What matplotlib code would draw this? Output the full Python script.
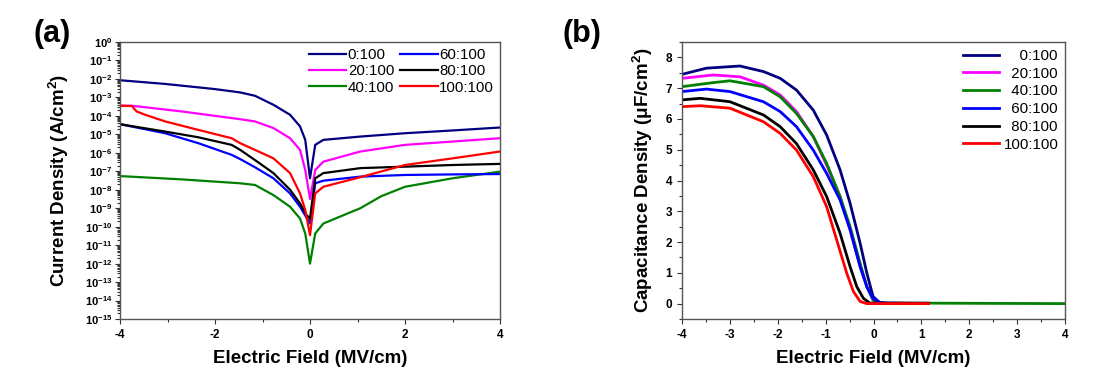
import numpy as np
import matplotlib
matplotlib.use("Agg")
import matplotlib.pyplot as plt
from matplotlib.ticker import LogLocator, MultipleLocator, NullFormatter

plt.rcParams['font.family'] = ['Liberation Sans', 'DejaVu Sans']
plt.rcParams['font.weight'] = 'bold'
plt.rcParams['axes.unicode_minus'] = False
plt.rcParams['mathtext.fontset'] = 'custom'
plt.rcParams['mathtext.rm'] = 'Liberation Sans:bold'
plt.rcParams['mathtext.bf'] = 'Liberation Sans:bold'
plt.rcParams['mathtext.default'] = 'bf'

labels = ['0:100', '20:100', '40:100', '60:100', '80:100', '100:100']
colors = ['#000080', '#ff00ff', '#008000', '#0000ff', '#000000', '#ff0000']

# (a) J-E curves: field (MV/cm) and log10 of current density (A/cm2)
jx_0 = [-4, -3.05, -2.0, -1.47, -1.16, -0.77, -0.42, -0.21, -0.10, 0.0, 0.11, 0.28, 1.06, 2, 3, 4]
logj_0 = [-2.07, -2.27, -2.55, -2.73, -2.91, -3.4, -3.94, -4.57, -5.3, -7.38, -5.57, -5.3, -5.12, -4.94, -4.79, -4.63]
jx_20 = [-4, -3.75, -2.7, -1.47, -1.16, -0.77, -0.42, -0.21, -0.10, 0.0, 0.11, 0.28, 1.06, 2, 3, 4]
logj_20 = [-3.45, -3.45, -3.76, -4.18, -4.3, -4.66, -5.21, -5.84, -6.93, -8.5, -6.93, -6.48, -5.93, -5.57, -5.39, -5.21]
jx_40 = [-4, -2.7, -1.47, -1.16, -0.77, -0.42, -0.21, -0.10, 0.0, 0.11, 0.28, 1.06, 1.5, 2, 3, 4]
logj_40 = [-7.26, -7.44, -7.65, -7.74, -8.29, -8.92, -9.56, -10.37, -12.0, -10.37, -9.83, -9.0, -8.35, -7.84, -7.38, -7.02]
jx_60 = [-4, -3.05, -2.35, -1.65, -1.47, -1.16, -0.77, -0.42, -0.21, 0.0, 0.11, 0.28, 1.06, 2, 3, 4]
logj_60 = [-4.45, -4.94, -5.48, -6.11, -6.34, -6.78, -7.38, -8.2, -8.92, -9.83, -7.65, -7.51, -7.29, -7.2, -7.17, -7.15]
jx_80 = [-4, -3.05, -2.35, -1.65, -1.47, -1.16, -0.77, -0.42, -0.21, -0.07, 0.0, 0.11, 0.28, 1.06, 2, 3, 4]
logj_80 = [-4.45, -4.85, -5.16, -5.57, -5.84, -6.39, -7.1, -8.0, -8.74, -9.38, -9.56, -7.38, -7.1, -6.83, -6.75, -6.66, -6.6]
jx_100 = [-4, -3.75, -3.65, -3.47, -3.05, -2.35, -1.65, -1.47, -1.16, -0.77, -0.42, -0.21, -0.10, 0.0, 0.11, 0.28, 1.06, 2, 3, 4]
logj_100 = [-3.45, -3.47, -3.76, -3.94, -4.3, -4.76, -5.21, -5.48, -5.84, -6.3, -7.1, -8.2, -9.1, -10.46, -8.2, -7.84, -7.32, -6.66, -6.3, -5.93]

# (b) C-E curves: field (MV/cm) and capacitance density (uF/cm2)
cx_0 = [-4, -3.49, -2.79, -2.3, -1.95, -1.61, -1.26, -0.98, -0.7, -0.49, -0.28, -0.14, -0.01, 0.13, 0.27, 1.15]
cap_0 = [7.45, 7.65, 7.72, 7.54, 7.32, 6.94, 6.29, 5.48, 4.35, 3.26, 1.96, 0.99, 0.23, 0.03, 0.01, 0.01]
cx_20 = [-4, -3.35, -2.79, -2.3, -1.95, -1.61, -1.26, -0.98, -0.7, -0.49, -0.28, -0.14, -0.01, 0.13, 1.15]
cap_20 = [7.32, 7.43, 7.37, 7.1, 6.78, 6.24, 5.43, 4.5, 3.48, 2.4, 1.2, 0.55, 0.12, 0.02, 0.01]
cx_40 = [-4, -3.35, -3.0, -2.3, -1.95, -1.61, -1.26, -0.98, -0.7, -0.49, -0.28, -0.14, -0.01, 0.13, 4.0]
cap_40 = [7.05, 7.18, 7.24, 7.05, 6.72, 6.18, 5.43, 4.56, 3.48, 2.5, 1.31, 0.55, 0.12, 0.02, 0.0]
cx_60 = [-4, -3.49, -3.0, -2.3, -1.95, -1.61, -1.26, -0.98, -0.7, -0.49, -0.28, -0.14, -0.01, 0.13, 0.27, 1.15]
cap_60 = [6.89, 6.97, 6.89, 6.56, 6.24, 5.75, 4.99, 4.23, 3.37, 2.4, 1.2, 0.55, 0.17, 0.04, 0.01, 0.01]
cx_80 = [-4, -3.62, -3.0, -2.3, -1.95, -1.61, -1.26, -0.98, -0.7, -0.49, -0.35, -0.21, -0.08, 1.15]
cap_80 = [6.62, 6.67, 6.56, 6.13, 5.75, 5.2, 4.35, 3.48, 2.29, 1.2, 0.55, 0.17, 0.02, 0.0]
cx_100 = [-4, -3.62, -3.0, -2.3, -1.95, -1.61, -1.26, -0.98, -0.77, -0.56, -0.42, -0.28, -0.14, 1.15]
cap_100 = [6.4, 6.43, 6.35, 5.91, 5.53, 4.99, 4.13, 3.15, 2.07, 0.99, 0.39, 0.07, 0.0, 0.0]

jx_all = [jx_0, jx_20, jx_40, jx_60, jx_80, jx_100]
logj_all = [logj_0, logj_20, logj_40, logj_60, logj_80, logj_100]
cx_all = [cx_0, cx_20, cx_40, cx_60, cx_80, cx_100]
cap_all = [cap_0, cap_20, cap_40, cap_60, cap_80, cap_100]


def style_axes(ax):
  for s in ax.spines.values():
    s.set_color('#555555')
    s.set_linewidth(1.0)
  ax.tick_params(which='both', direction='out', labelsize=8.5, width=0.8, colors='#333333', labelcolor='black')
  ax.tick_params(which='major', length=3.5)
  ax.tick_params(which='minor', length=2)


fig = plt.figure(figsize=(11.04, 3.83), dpi=100)
ax_a = fig.add_axes([0.1087, 0.1671, 0.3442, 0.7232])
ax_b = fig.add_axes([0.6178, 0.1671, 0.3469, 0.7232])

# panel (a)
for xs, vals, lab, c in zip(jx_all, logj_all, labels, colors):
  ax_a.plot(xs, 10.0 ** np.array(vals), color=c, lw=1.6, label=lab)
ax_a.set_yscale('log')
ax_a.set_xlim(-4, 4)
ax_a.set_ylim(1e-15, 1)
ax_a.yaxis.set_major_locator(LogLocator(base=10, numticks=20))
ax_a.yaxis.set_minor_locator(LogLocator(base=10, subs=np.arange(2, 10), numticks=20))
ax_a.yaxis.set_minor_formatter(NullFormatter())
ax_a.xaxis.set_major_locator(MultipleLocator(2))
ax_a.xaxis.set_minor_locator(MultipleLocator(1))
style_axes(ax_a)
ax_a.tick_params(axis='y', labelsize=8, pad=2)
ax_a.set_xlabel('Electric Field (MV/cm)', fontsize=13.5, fontweight='bold', labelpad=7)
ax_a.set_ylabel('Current Density (A/cm$^2$)', fontsize=13.5, fontweight='bold', labelpad=10)
ax_a.legend(ncol=2, loc='upper right', frameon=False, prop={'size': 10.8, 'weight': 'normal'},
            handlelength=2.5, handletextpad=0.1, columnspacing=0.4, labelspacing=0.15,
            borderaxespad=0.0, bbox_to_anchor=(1.0, 1.0))
fig.text(0.047, 0.91, '(a)', fontsize=22, fontweight='bold', ha='center', va='center')

# panel (b)
for xs, vals, lab, c in zip(cx_all, cap_all, labels, colors):
  ax_b.plot(xs, vals, color=c, lw=2.0, label=lab)
ax_b.set_xlim(-4, 4)
ax_b.set_ylim(-0.5, 8.5)
ax_b.xaxis.set_major_locator(MultipleLocator(1))
ax_b.xaxis.set_minor_locator(MultipleLocator(0.5))
ax_b.yaxis.set_major_locator(MultipleLocator(1))
ax_b.yaxis.set_minor_locator(MultipleLocator(0.5))
style_axes(ax_b)
ax_b.set_xlabel('Electric Field (MV/cm)', fontsize=13.5, fontweight='bold', labelpad=7)
ax_b.set_ylabel('Capacitance Density (\u03bcF/cm$^2$)', fontsize=13.5, fontweight='bold', labelpad=8)
# two spaces are one digit wide in Liberation Sans -> right aligned labels
pad_labels = ['    0:100', '  20:100', '  40:100', '  60:100', '  80:100', '100:100']
h, _ = ax_b.get_legend_handles_labels()
ax_b.legend(h, pad_labels, loc='upper right', frameon=False, prop={'size': 10.8, 'weight': 'normal'},
            handlelength=2.4, handletextpad=0.3, labelspacing=0.25, borderaxespad=0.05)
fig.text(0.527, 0.91, '(b)', fontsize=22, fontweight='bold', ha='center', va='center')

fig.savefig('out.png', dpi=100)
